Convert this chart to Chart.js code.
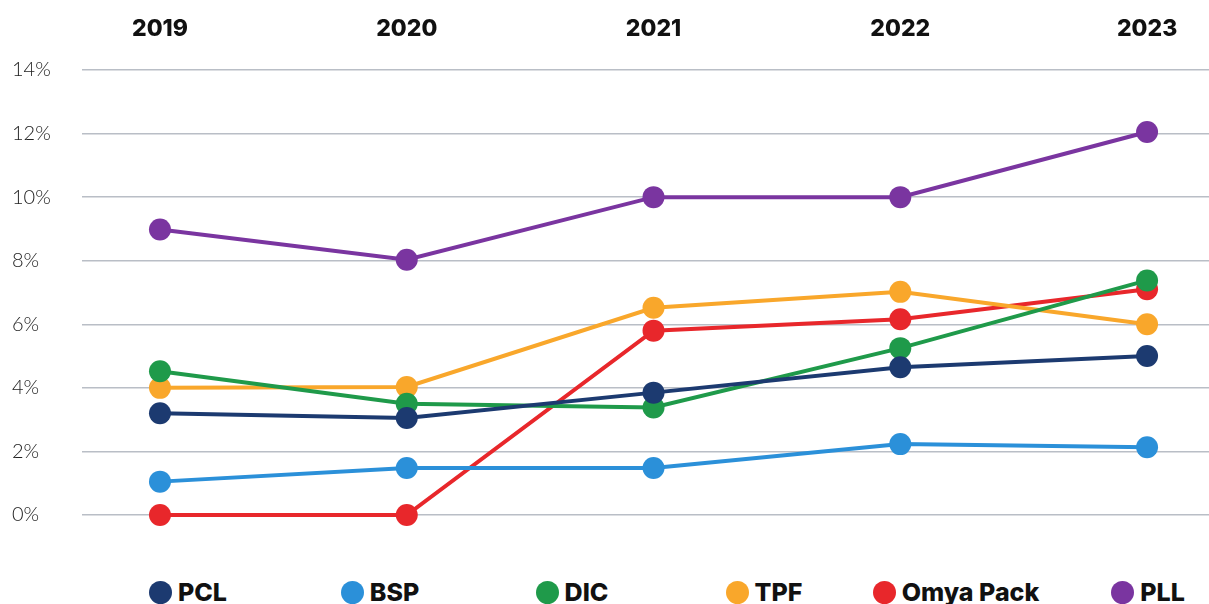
<!DOCTYPE html>
<html>
<head>
<meta charset="utf-8">
<script src="https://cdn.jsdelivr.net/npm/chart.js@4.4.1/dist/chart.umd.min.js"></script>
<style>
    html, body { margin: 0; padding: 0; background: #fff; overflow: hidden; }
    #wrap { width: 1209px; height: 604px; position: relative; overflow: hidden; }
    #chartBox { width: 1209px; height: 540px; position: relative; }
    #legend {
        position: absolute; left: 92px; top: 576px;
        display: grid; grid-template-columns: repeat(6, 192px);
        font-family: Inter, 'DejaVu Sans', sans-serif; font-weight: 800; font-size: 25px; color: #111;
    }
    .item { display: flex; align-items: center; justify-content: center; height: 32px; }
    .dot { width: 23px; height: 23px; border-radius: 50%; margin-right: 6px; }
</style>
</head>
<body>
<div id="wrap">
    <div id="chartBox"><canvas id="growthChart"></canvas></div>
    <div id="legend"></div>
</div>
<script>
const years = [2019, 2020, 2021, 2022, 2023];

const seriesNames = ['PCL', 'BSP', 'DIC', 'TPF', 'Omya Pack', 'PLL'];
const seriesColors = ['#1c3a70', '#2b90d9', '#1f9a4a', '#f9a72b', '#e8272b', '#7a35a0'];

const pcl = [3.2, 3.05, 3.85, 4.65, 5.0];
const bsp = [1.05, 1.48, 1.48, 2.23, 2.13];
const dic = [4.52, 3.5, 3.38, 5.25, 7.38];
const tpf = [4.0, 4.03, 6.52, 7.02, 6.0];
const omyaPack = [0, 0, 5.8, 6.16, 7.1];
const pll = [8.98, 8.03, 10, 10, 12.05];

const seriesValues = [pcl, bsp, dic, tpf, omyaPack, pll];

const yTicks = [0, 2, 4, 6, 8, 10, 12, 14];

const datasets = seriesNames.map((name, i) => ({
    label: name,
    data: years.map((yr, j) => ({ x: yr, y: seriesValues[i][j] })),
    borderColor: seriesColors[i],
    backgroundColor: seriesColors[i],
    pointBackgroundColor: seriesColors[i],
    borderWidth: 4,
    pointRadius: 11,
    pointHoverRadius: 11,
    pointBorderWidth: 0,
    tension: 0,
    clip: false
}));

const ctx = document.getElementById('growthChart').getContext('2d');
const chart = new Chart(ctx, {
    type: 'line',
    data: { datasets: datasets },
    options: {
        responsive: true,
        maintainAspectRatio: false,
        animation: false,
        layout: { autoPadding: false, padding: { top: 15, left: 12, right: 0, bottom: 25 } },
        scales: {
            x: {
                type: 'linear',
                position: 'top',
                min: 2018.684,
                max: 2023.251,
                grid: { display: false, drawTicks: false },
                border: { display: false },
                // fixed axis band, no extra side padding from the year labels
                afterFit: axis => {
                    axis.height = 55;
                    axis.paddingLeft = 0;
                    axis.paddingRight = 0;
                },
                ticks: {
                    stepSize: 1,
                    includeBounds: false,
                    maxRotation: 0,
                    padding: 27,
                    color: '#111',
                    font: { family: 'Inter', weight: 800, size: 23 },
                    callback: value => String(value)
                }
            },
            y: {
                min: yTicks[0],
                max: yTicks[yTicks.length - 1],
                grid: { color: '#b9bec6', lineWidth: 1.5, drawTicks: false },
                border: { display: false },
                afterBuildTicks: axis => { axis.ticks = yTicks.map(v => ({ value: v })); },
                afterFit: axis => {
                    axis.width = 70;
                    axis.paddingTop = 0;
                    axis.paddingBottom = 0;
                },
                ticks: {
                    crossAlign: 'far',
                    padding: 30,
                    color: '#222',
                    font: { family: 'Lato', weight: 300, size: 20 },
                    callback: value => value + '%'
                }
            }
        },
        plugins: {
            legend: { display: false },
            tooltip: { enabled: false }
        }
    }
});

// legend row under the chart
const legendEl = document.getElementById('legend');
seriesNames.forEach((name, i) => {
    const item = document.createElement('div');
    item.className = 'item';
    const dot = document.createElement('span');
    dot.className = 'dot';
    dot.style.background = seriesColors[i];
    const text = document.createElement('span');
    text.textContent = name;
    item.appendChild(dot);
    item.appendChild(text);
    legendEl.appendChild(item);
});
</script>
</body>
</html>
